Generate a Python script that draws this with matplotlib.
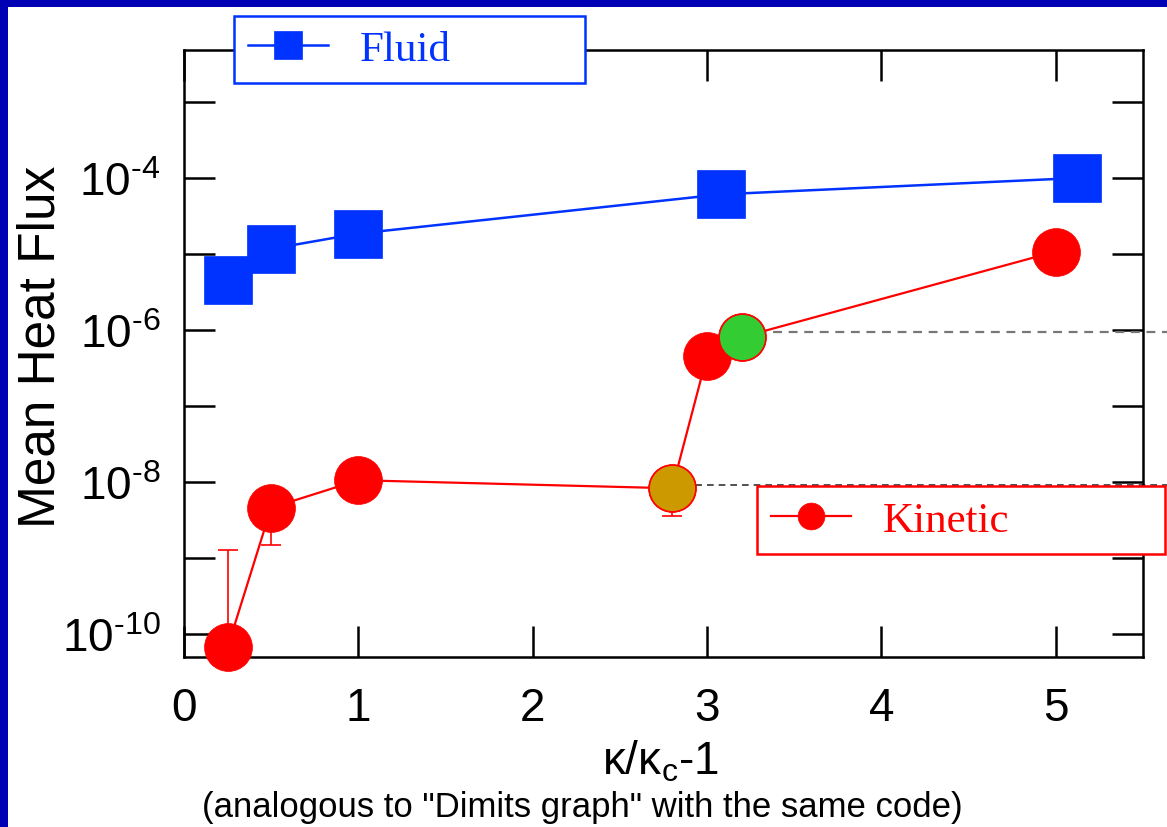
import numpy as np
import matplotlib
matplotlib.use("Agg")
import matplotlib.pyplot as plt
from matplotlib.patches import Rectangle
from matplotlib.ticker import FixedLocator, FuncFormatter, NullLocator

# --- data ------------------------------------------------------------------
fluid_x = [0.25, 0.5, 1.0, 3.08, 5.12]
fluid_y = [4.5e-6, 1.17e-5, 1.86e-5, 6.1e-5, 1.0e-4]

kinetic_x = [0.25, 0.5, 1.0, 2.8, 3.0, 3.2, 5.0]
kinetic_y = [6.7e-11, 4.6e-9, 1.06e-8, 8.3e-9, 4.6e-7, 8.1e-7, 1.08e-5]

# error bars that are visible (low / high ends)
err_x = [0.25, 0.5, 2.8]
err_y = [6.7e-11, 4.6e-9, 8.3e-9]
err_low = [6.7e-11, 1.5e-9, 3.6e-9]
err_high = [1.3e-9, 4.6e-9, 8.3e-9]

# highlighted kinetic runs
hl_x = [2.8, 3.2]
hl_y = [8.3e-9, 8.1e-7]
hl_colors = ["#cc9900", "#33cc33"]

# dashed reference levels starting at the highlighted runs
ref_x = [2.8, 3.2]
ref_y = [9.2e-9, 9.5e-7]
ref_colors = ["#333333", "#777777"]

x_ticks = [0, 1, 2, 3, 4, 5]
y_decades = np.arange(-10, -2)

BLUE = "#0033ff"
RED = "#ff0000"

plt.rcParams["font.family"] = ["Liberation Sans", "DejaVu Sans"]
plt.rcParams["mathtext.fontset"] = "custom"
plt.rcParams["mathtext.rm"] = "Liberation Sans"
plt.rcParams["mathtext.it"] = "Liberation Sans:italic"

W, H = 1167, 828
fig = plt.figure(figsize=(W / 100, H / 100), dpi=100)
fig.patch.set_facecolor("#0000b4")
fig.add_artist(Rectangle((8 / W, 0), 1, 1 - 8 / H, transform=fig.transFigure,
                         facecolor="white", edgecolor="none", zorder=-10))

ax = fig.add_axes([184 / W, 1 - 658 / H, (1143 - 184) / W, (658 - 51) / H])
ax.set_yscale("log")
ax.set_xlim(0, 5.5)
ax.set_ylim(10 ** -10.30, 10 ** -2.316)

# reference dashed levels
for x0, y0, c in zip(ref_x, ref_y, ref_colors):
    ax.plot([x0, 5.8], [y0, y0], ls=(0, (4, 3)), color=c,
            lw=1.2 if c == "#333333" else 1.6, clip_on=False, zorder=2)

# error bars
yerr = [np.array(err_y) - np.array(err_low), np.array(err_high) - np.array(err_y)]
ax.errorbar(err_x, err_y, yerr=yerr, fmt="none", ecolor=RED, elinewidth=1.2,
            capsize=7, capthick=1.2, zorder=2.8)

fluid_line, = ax.plot(fluid_x, fluid_y, color=BLUE, lw=1.8, marker="s", ms=35,
                      mfc=BLUE, mec=BLUE, mew=0.5, clip_on=False, zorder=3)
kin_line, = ax.plot(kinetic_x, kinetic_y, color=RED, lw=1.6, marker="o", ms=34.5,
                    mfc=RED, mec=RED, mew=0.5, clip_on=False, zorder=3)
for x, y, c in zip(hl_x, hl_y, hl_colors):
    ax.plot([x], [y], marker="o", ms=33.5, mfc=c, mec=RED, mew=1.0,
            ls="none", clip_on=False, zorder=4)

ax.xaxis.set_major_locator(FixedLocator(x_ticks))
ax.xaxis.set_minor_locator(NullLocator())
ax.yaxis.set_major_locator(FixedLocator(10.0 ** y_decades))
ax.yaxis.set_minor_locator(NullLocator())


def y_fmt(v, pos):
    e = int(round(np.log10(v)))
    if e % 2:
        return ""
    # plain hyphen in the exponent, like the original plot
    return r"10$^{\mathregular{\u2010%d}}$".replace(r"\u2010", "\u2010") % abs(e)


ax.xaxis.set_major_formatter(FuncFormatter(lambda v, p: "%d" % v))
ax.yaxis.set_major_formatter(FuncFormatter(y_fmt))
ax.tick_params(which="both", direction="in", length=22, width=1.8,
               top=True, right=True, labelsize=33, colors="black")
ax.tick_params(axis="x", pad=21)
ax.tick_params(axis="y", pad=17)
for s in ax.spines.values():
    s.set_linewidth(1.8)

ax.set_ylabel("Mean Heat Flux", fontsize=37)
ax.yaxis.set_label_coords(-0.124, 0.512)

fig.text(660 / W, 1 - 775 / H, "κ/κ$_\\mathregular{c}$-1", ha="center",
         va="baseline", fontsize=33)
fig.text(582 / W, 1 - 817 / H, '(analogous to "Dimits graph" with the same code)',
         ha="center", va="baseline", fontsize=25)

leg_kw = dict(loc="center", mode="expand", borderaxespad=0, frameon=True,
              fancybox=False, framealpha=1, facecolor="white",
              prop={"family": "Liberation Serif", "size": 31},
              handlelength=1.86, handletextpad=0.72, markerscale=0.56,
              borderpad=0.33)
leg1 = fig.legend([fluid_line], ["Fluid"], labelcolor=BLUE, edgecolor=BLUE,
                  bbox_to_anchor=(234 / W, 1 - 85 / H, 351 / W, 69 / H), **leg_kw)
leg1.get_frame().set_linewidth(1.8)
leg2 = fig.legend([kin_line], ["Kinetic"], labelcolor=RED, edgecolor=RED,
                  bbox_to_anchor=(757 / W, 1 - 555 / H, 408 / W, 68 / H), **leg_kw)
leg2.get_frame().set_linewidth(1.8)

fig.savefig("out.png", dpi=100, facecolor=fig.get_facecolor())
